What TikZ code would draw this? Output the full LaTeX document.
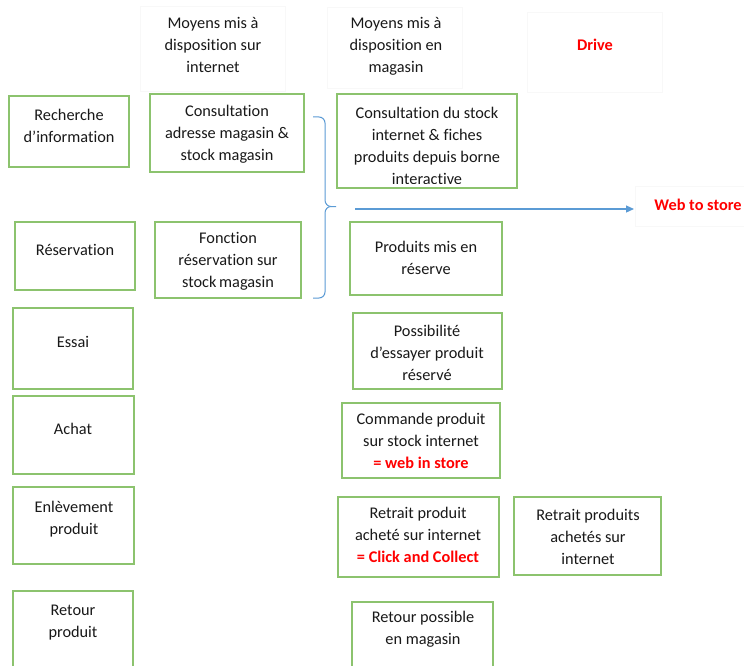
\documentclass[tikz,border=0pt]{standalone}
\usepackage{fontspec}
\setmainfont{Carlito}[Ligatures=NoCommon]
\usetikzlibrary{arrows.meta}
\definecolor{boxgreen}{RGB}{140,195,110}
\definecolor{bracblue}{RGB}{91,155,213}
\definecolor{redtxt}{RGB}{255,0,0}
\definecolor{faintgray}{RGB}{248,248,248}
\newcommand{\bx}[6][boxframe]{%
  \node[#1, minimum width={(#5-#3)*1pt}, minimum height={(#6-#4)*1pt}]
    (#2) at ({(#3+#5)/2},{(#4+#6)/2}) {};}
\begin{document}
\begin{tikzpicture}[x=1pt,y=-1pt,
  boxframe/.style={draw=boxgreen, line width=1.3pt, rectangle, inner sep=0pt, outer sep=0pt},
  faintframe/.style={draw=faintgray, line width=0.6pt, rectangle, inner sep=0pt, outer sep=0pt},
  txt/.style={align=center, inner sep=0pt, text=black!90, font=\fontsize{16.3}{22}\selectfont},
  redbold/.style={text=redtxt, font=\fontsize{16.3}{22}\selectfont\bfseries, inner sep=0pt},
  brace/.style={draw=bracblue, line width=1pt},
  arr/.style={draw=bracblue, line width=1.2pt, -{Triangle[length=8pt,width=7pt]}}]
\clip (0,0) rectangle (744,666);
\fill[white] (0,0) rectangle (744,666);
% faint header boxes
\bx[faintframe]{h1}{140}{6}{285}{91}
\bx[faintframe]{h2}{327}{7}{462}{88}
\bx[faintframe]{h3}{527}{12}{662}{92}
\bx[faintframe]{h4}{635}{186}{760}{226}
\node[txt] (h1t) at (213,45) {Moyens mis à\\disposition sur\\internet};
\node[txt] (h2t) at (396,46) {Moyens mis à\\disposition en\\magasin};
\node[redbold] (drive) at (595,45) {Drive};
% boxes
\bx{rech}{9}{96}{129}{167}
\bx{cadr}{150}{94}{304}{172}
\bx{cstk}{337}{94}{517}{188}
\bx{res}{15}{222}{135}{290}
\bx{fonc}{155}{222}{301}{298}
\bx{prod}{350}{222}{502}{295}
\bx{essai}{13}{308}{133}{389}
\bx{poss}{353}{313}{502}{389}
\bx{achat}{13}{396}{134}{474}
\bx{cmd}{342}{403}{500}{478}
\bx{enl}{13}{487}{134}{564}
\bx{rpa}{338}{497}{499}{577}
\bx{rpb}{514}{497}{661}{575}
\bx{ret}{13}{591}{133}{690}
\bx{retp}{352}{602}{493}{690}
% texts
\node[txt] (rechT) at (69,126) {Recherche\\d’information};
\node[txt] (cadrT) at (227,134) {Consultation\\adresse magasin \&\\stock magasin};
\begin{scope}
\clip (337,94) rectangle (517,183.5);
\node[txt] (cstkT) at (427,146) {Consultation du stock\\internet \& fiches\\produits depuis borne\\interactive};
\end{scope}
\node[txt] (resT) at (75,250) {Réservation};
\node[txt] (foncT) at (228,261) {Fonction\\réservation sur\\stock\,magasin};
\node[txt] (prodT) at (426,258) {Produits mis en\\réserve};
\node[txt] (essaiT) at (73,342) {Essai};
\node[txt] (possT) at (427,353) {Possibilité\\d’essayer produit\\réservé};
\node[txt] (achatT) at (73,429) {Achat};
\node[txt] (cmdT) at (421,441) {Commande produit\\sur stock internet\\{\color{redtxt}\bfseries = web in store}};
\node[txt] (enlT) at (74,519) {Enlèvement\\produit};
\node[txt] (rpaT) at (418,535) {Retrait produit\\acheté sur internet\\{\color{redtxt}\bfseries = Click and Collect}};
\node[txt] (rpbT) at (588,537) {Retrait produits\\achetés sur\\internet};
\node[txt] (retT) at (73,623) {Retour\\produit};
\node[txt] (retpT) at (423,629) {Retour possible\\en magasin};
% brace
\draw[brace] (313,117) -- (319,117) to[out=0,in=90] (325,123) -- (325,200)
  to[out=-90,in=180] (331,206.5) -- (336,206.5);
\draw[brace] (331,206.5) to[out=180,in=90] (325,213) -- (325,292)
  to[out=-90,in=0] (319,298) -- (313,298);
% arrow
\coordinate (aS) at (355,209);
\coordinate (aE) at (634,209);
\draw[arr] (aS) -- (aE);
\node[redbold] (web) at (698,205) {Web to store};
\end{tikzpicture}
\end{document}
